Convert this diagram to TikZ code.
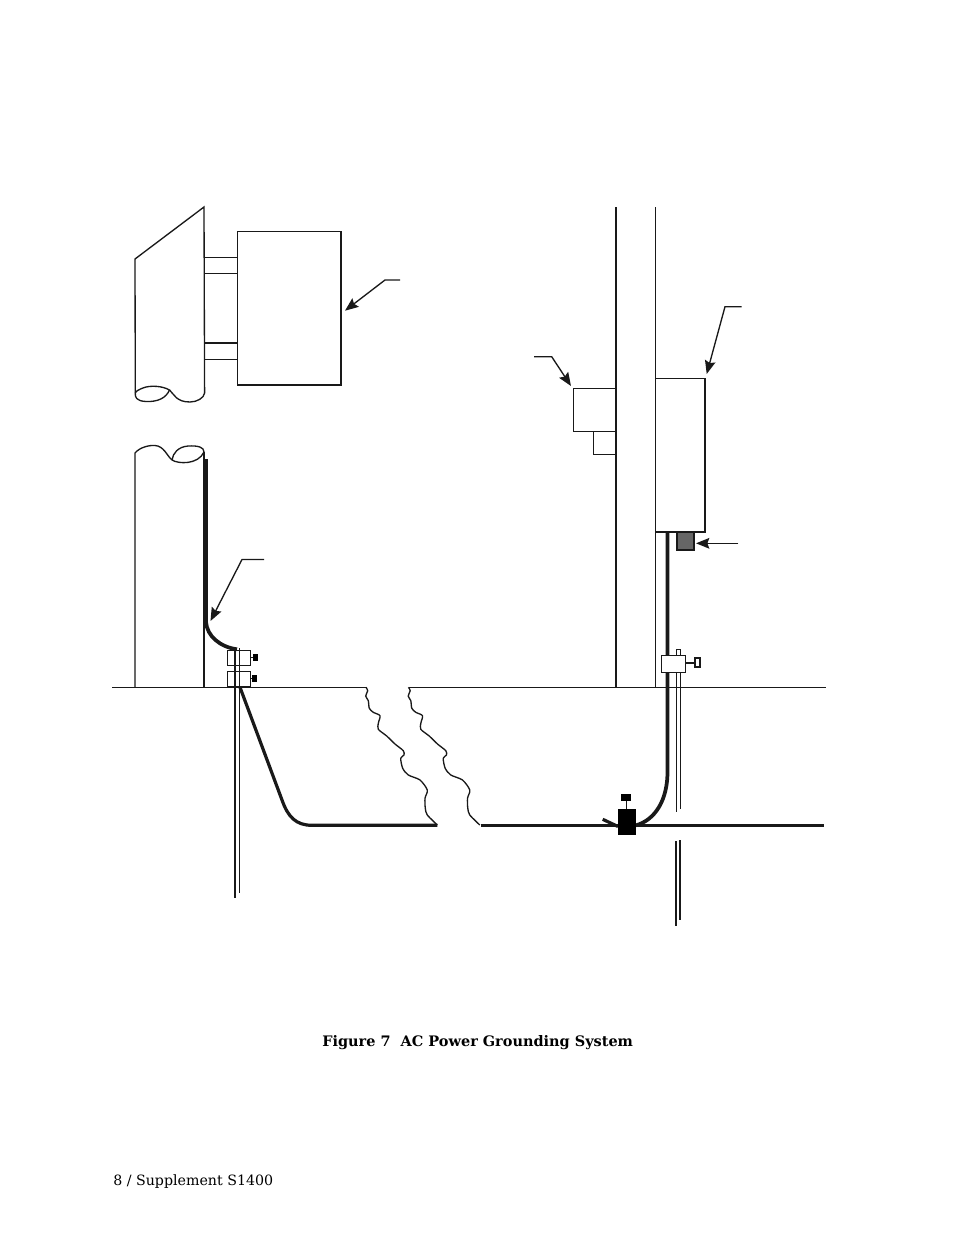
\documentclass[tikz,border=0pt]{standalone}
\usepackage{fontspec}
\setmainfont{DejaVu Serif}
\usetikzlibrary{arrows.meta}
\def\boxa{(237.3,231.3) rectangle (341.3,385)}
\def\boxb{(655.7,378.3) rectangle (705,532.3)}
\def\boxc{(573.3,388.3) rectangle (616,431.3)}
\def\boxd{(593.3,431.3) rectangle (616,454.3)}
\def\clampa{(227.3,650.3) rectangle (250.7,665.3)}
\def\clampb{(227.3,671.3) rectangle (250.7,686.7)}
\def\clampc{(661.3,655.3) rectangle (685.7,672.7)}
\def\crack{plot[smooth,tension=.45] coordinates {(366,687.3) (367.7,690.7) (365.7,696) (368.3,700.7) (369.3,708.3) (373.3,712.3) (380,715.7) (378.3,723.3) (378.3,729.3) (386.7,736) (395,744) (403.3,750.7) (404,755) (400.7,758.3) (402.7,768.3) (408.3,775) (420,780) (427.3,790) (425,798.3) (425.3,808.3) (427.3,815) (437.3,825)}}
\tikzset{
  thinline/.style={line width=1pt,draw=black!90},
  medline/.style={line width=1.35pt,draw=black!90},
  wire/.style={line width=2.4pt,draw=black!90},
  rod/.style={line width=1.5pt,draw=black!90},
  leader/.style={line width=1pt,draw=black!90,-{Stealth[length=10pt,width=8pt,inset=1.5pt]}}
}
\begin{document}
\begin{tikzpicture}[x=.75pt,y=-.75pt]
\useasboundingbox (0,0) rectangle (954,1235);
% pole, upper part
\draw[thinline] (135.3,393) -- (135,259) -- (204,207) -- (204.6,393);
\draw[thinline] (135.3,393) .. controls (135,397) and (136,401) .. (146,401.5) .. controls (158,402) and (166,398) .. (169.5,390) .. controls (163,386) and (150,385) .. (143,388) .. controls (139,389.5) and (136,391) .. (135.3,393);
\draw[thinline] (169.5,390) .. controls (174,394) and (176,402) .. (190,402) .. controls (197,402) and (204,398) .. (204.6,393);
% pole, lower part
\draw[thinline] (135,687) -- (135,453) .. controls (140,447) and (150,445) .. (155,445.5) .. controls (164,446) and (167,456) .. (172,460) .. controls (178,464) and (198,465) .. (204,452) .. controls (204,447) and (198,445.5) .. (188,446) .. controls (178,447) and (173,453) .. (172,460);
\draw[thinline] (204,452) -- (204,687);
% equipment boxes and brackets
\draw[thinline] \boxa;
\draw[medline] (341.3,231.3) -- (341.3,385) -- (237.3,385);
\draw[thinline] (204,257.3) -- (237.3,257.3) (204,273.3) -- (237.3,273.3) (204,359.3) -- (237.3,359.3);
\draw[medline] (204,342.7) -- (237.3,342.7);
% column
\draw[medline] (616,207) -- (616,687);
\draw[thinline] (655.7,207) -- (655.7,687);
\draw[thinline,fill=white] \boxb;
\draw[medline] (705,378.3) -- (705,532.3) -- (655.7,532.3);
\draw[thinline] \boxc;
\draw[thinline] \boxd;
\draw[medline,fill=black!60] (676.7,532.3) rectangle (693.7,550);
% ground line and breaks
\draw[thinline] (112,687.3) -- (366,687.3);
\draw[thinline] (408.5,687.3) -- (826,687.3);
\draw[thinline] \crack;
\draw[thinline,shift={(42.5,0)}] \crack;
% left rods, clamps and wires
\draw[rod] (235,650) -- (235,898);
\draw[thinline] (239.3,648) -- (239.3,893);
\draw[thinline] \clampa;
\draw[thinline] \clampb;
\draw[thinline] (250.7,657.3) -- (253,657.3);
\draw[thinline] (250.7,678.5) -- (252.3,678.5);
\fill[black] (253,654) rectangle (258,660.7);
\fill[black] (252.3,675.3) rectangle (257,682);
\draw[wire,line width=2.8pt] (206,459) -- (206,622) .. controls (207,636) and (220,647) .. (237,649.3);
\draw[wire] (240,687.3) -- (282,800) .. controls (288,817) and (296,825.3) .. (312,825.3) -- (437.3,825.3);
% right ground wire, connector, rods
\draw[wire] (481,825.3) -- (618,825.3);
\draw[wire] (636,825.3) -- (824,825.3);
\draw[wire] (602.7,819.3) -- (618,826.5);
\draw[wire,line width=2.8pt] (667.5,532.3) -- (667.5,770) .. controls (668,800) and (655,820) .. (636,825.3);
\fill[black] (618,809) rectangle (636,834.7);
\fill[black] (621,794) rectangle (631,801);
\draw[thinline] (626.3,801) -- (626.3,809);
\draw[thinline] (676.3,672) -- (676.3,811.7);
\draw[thinline] (680.3,672) -- (680.3,809.3);
\draw[rod] (676,841) -- (676,925.7);
\draw[rod] (680,840) -- (680,920);
\draw[thinline] (676.3,655) -- (676.3,649.3) -- (680.3,649.3) -- (680.3,655);
\draw[thinline,fill=white] \clampc;
\draw[rod] (685.7,662.7) -- (695,662.7);
\draw[medline,fill=white] (694.7,658.3) rectangle (700.3,667.3);
% leaders
\coordinate (tipa) at (345,310.7);
\coordinate (taila) at (400,280);
\coordinate (tipb) at (571,386);
\coordinate (tailb) at (534,356.7);
\coordinate (tipc) at (706.7,374);
\coordinate (tailc) at (741.7,306.7);
\coordinate (tipd) at (696,543.3);
\coordinate (taild) at (738.3,543.3);
\coordinate (tipe) at (210.5,621);
\coordinate (taile) at (264,559.5);
\draw[leader] (taila) -- (385,280) -- (tipa);
\draw[leader] (tailb) -- (551.7,356.7) -- (tipb);
\draw[leader] (tailc) -- (725,306.7) -- (tipc);
\draw[leader] (taild) -- (tipd);
\draw[leader] (taile) -- (242,559.5) -- (tipe);
% texts
\node[anchor=base west,inner sep=0pt] (caption) at (322,1046.5) {\fontsize{10.85}{13}\selectfont\bfseries Figure 7\ \ AC Power Grounding System};
\node[anchor=base west,inner sep=0pt] (folio) at (113,1185) {\fontsize{10.65}{14}\selectfont 8 / Supplement S1400};
\end{tikzpicture}
\end{document}
